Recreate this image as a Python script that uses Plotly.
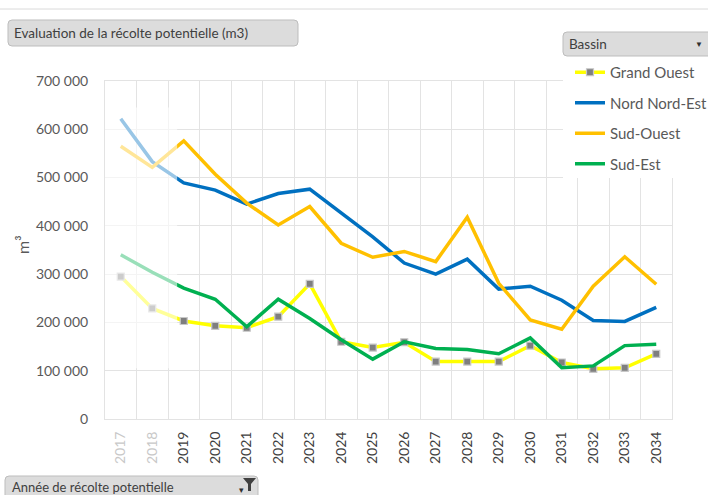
import plotly.graph_objects as go

# ---------------- data ----------------
years = list(range(2017, 2035))
faded_years = [2017, 2018]
grand_ouest = [295000, 229000, 203000, 193000, 189000, 212000, 280000, 160000, 148000,
               159000, 119000, 119000, 119000, 152000, 117000, 104000, 106000, 135000]
nord_nord_est = [622000, 533000, 489000, 474000, 445000, 467000, 476000, 427000, 377000,
                 323000, 300000, 331000, 269000, 275000, 246000, 204000, 202000, 231000]
sud_ouest = [565000, 521000, 576000, 507000, 447000, 402000, 440000, 364000, 335000,
             347000, 326000, 418000, 281000, 205000, 186000, 275000, 336000, 279000]
sud_est = [340000, 304000, 271000, 248000, 191000, 248000, 208000, 164000, 124000,
           160000, 146000, 144000, 135000, 168000, 106000, 110000, 152000, 155000]
series_names = ["Grand Ouest", "Nord Nord-Est", "Sud-Ouest", "Sud-Est"]
y_ticks = [0, 100000, 200000, 300000, 400000, 500000, 600000, 700000]

title_text = "Evaluation de la récolte potentielle (m3)"
legend_title = "Bassin"
axis_button_text = "Année de récolte potentielle"

# ---------------- geometry helpers ----------------
# page body margin is removed (post_script), so the figure fills the window
OFF = 0
W, H = 708, 495
L, R, T, B = 105, 36, 81, 76
PW, PH = W - L - R, H - T - B


def px(x):
    """window pixel x -> paper x"""
    return (x - OFF - L) / PW


def py(y):
    """window pixel y -> paper y"""
    return (H - B - (y - OFF)) / PH


FONT = "Lato, 'Liberation Sans', Arial, sans-serif"
GREY = "#595959"

fig = go.Figure()

colors = ["#FFFF00", "#0070C0", "#FFC000", "#00B050"]
values = [grand_ouest, nord_nord_est, sud_ouest, sud_est]
for name, col, vals in zip(series_names, colors, values):
    is_go = name == "Grand Ouest"
    fig.add_trace(go.Scatter(
        x=years, y=vals, name=name, legendgroup=name,
        mode="lines+markers" if is_go else "lines",
        line=dict(color=col, width=3.5),
        marker=dict(symbol="square", size=7, color="#7F7F7F",
                    line=dict(color="#C8C8C8", width=1.2)),
        hoverinfo="x+y+name",
    ))

ticktext = []
for yv in years:
    if yv in faded_years:
        ticktext.append(f"<span style='color:#C8C8C8'>{yv}</span>")
    else:
        ticktext.append(str(yv))

fig.update_xaxes(
    range=[years[0] - 0.5, years[-1] + 0.5],
    tickmode="array", tickvals=years, ticktext=ticktext,
    tickangle=-90, tickfont=dict(family=FONT, size=14, color="#404040"),
    showgrid=False, zeroline=False,
    showline=True, mirror=True, linecolor="#E3E3E3", linewidth=1,
    minor=dict(tickvals=[yv + 0.5 for yv in years[:-1]], showgrid=True,
               gridcolor="#E3E3E3", gridwidth=1, ticks=""),
    ticklabelstandoff=6, fixedrange=True, automargin=False,
)
fig.update_yaxes(
    range=[0, 700000], tickmode="array", tickvals=y_ticks,
    tickformat=",d", tickfont=dict(family=FONT, size=14, color=GREY),
    showgrid=True, gridcolor="#E3E3E3", gridwidth=1, zeroline=False,
    showline=True, mirror=True, linecolor="#E3E3E3", linewidth=1,
    ticklabelstandoff=13, fixedrange=True, automargin=False,
)

shapes = []
# fade overlay for early years
shapes.append(dict(type="rect", xref="x", yref="y", x0=years[0] - 0.5, x1=2018.79,
                   y0=105000, y1=645000, fillcolor="white", opacity=0.6,
                   line=dict(width=0), layer="above"))
# top separator line
shapes.append(dict(type="line", xref="paper", yref="paper", x0=px(0), x1=px(720),
                   y0=py(9), y1=py(9), line=dict(color="#DADADA", width=1)))
# legend white area
shapes.append(dict(type="rect", xref="paper", yref="paper", x0=px(563), x1=px(720),
                   y0=py(178), y1=py(56), fillcolor="white", line=dict(width=0),
                   layer="above"))


def rounded(x0, y0, x1, y1, r=4):
    X0, X1 = px(x0), px(x1)
    Y0, Y1 = py(y0), py(y1)
    rx, ry = r / PW, r / PH
    return (f"M{X0+rx},{Y0} L{X1-rx},{Y0} Q{X1},{Y0} {X1},{Y0-ry} "
            f"L{X1},{Y1+ry} Q{X1},{Y1} {X1-rx},{Y1} L{X0+rx},{Y1} "
            f"Q{X0},{Y1} {X0},{Y1+ry} L{X0},{Y0-ry} Q{X0},{Y0} {X0+rx},{Y0} Z")


for (x0, y0, x1, y1) in [(8, 20, 298, 46), (563, 32, 712, 56), (5, 476, 258, 500)]:
    shapes.append(dict(type="path", xref="paper", yref="paper",
                       path=rounded(x0, y0, x1, y1), fillcolor="#DCDCDC",
                       line=dict(color="#BDBDBD", width=1), layer="above"))

# funnel icon
funnel = (f"M{px(243)},{py(478)} L{px(256)},{py(478)} L{px(251)},{py(484)} "
          f"L{px(251)},{py(491)} L{px(248)},{py(491)} L{px(248)},{py(484)} Z")
shapes.append(dict(type="path", xref="paper", yref="paper", path=funnel,
                   fillcolor="#404040", line=dict(width=0), layer="above"))

annotations = [
    dict(text=title_text, xref="paper", yref="paper", x=px(12), y=py(33),
         xanchor="left", yanchor="middle", showarrow=False,
         font=dict(family=FONT, size=13.5, color="#404040")),
    dict(text=legend_title, xref="paper", yref="paper", x=px(567), y=py(44),
         xanchor="left", yanchor="middle", showarrow=False,
         font=dict(family=FONT, size=13.5, color="#404040")),
    dict(text="▼", xref="paper", yref="paper", x=px(699), y=py(44),
         xanchor="center", yanchor="middle", showarrow=False,
         font=dict(family=FONT, size=8, color="#303030")),
    dict(text=axis_button_text, xref="paper", yref="paper", x=px(10), y=py(487),
         xanchor="left", yanchor="middle", showarrow=False,
         font=dict(family=FONT, size=13, color="#404040")),
    dict(text="▾", xref="paper", yref="paper", x=px(241), y=py(489),
         xanchor="center", yanchor="middle", showarrow=False,
         font=dict(family=FONT, size=9, color="#303030")),
    dict(text="m³", xref="paper", yref="paper", x=px(22), y=py(245),
         xanchor="center", yanchor="middle", showarrow=False, textangle=-90,
         font=dict(family=FONT, size=16, color=GREY)),
]

fig.update_layout(
    width=W, height=H,
    margin=dict(l=L, r=R, t=T, b=B, autoexpand=False),
    paper_bgcolor="white", plot_bgcolor="white",
    separators=", ",
    shapes=shapes, annotations=annotations,
    showlegend=True,
    legend=dict(x=px(570), y=py(56), xanchor="left", yanchor="top",
                bgcolor="rgba(0,0,0,0)", borderwidth=0,
                font=dict(family=FONT, size=15, color=GREY),
                tracegroupgap=8, traceorder="grouped", itemwidth=30),
    hovermode="closest",
)

fig.write_html(
    "out.html",
    config={"displayModeBar": False},
    post_script="document.body.style.margin='0';document.body.style.overflow='hidden';",
)
